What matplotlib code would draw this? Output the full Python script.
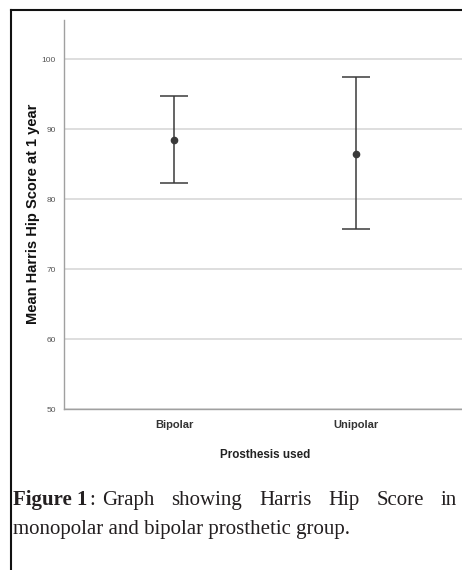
import matplotlib
matplotlib.use("Agg")
import matplotlib.pyplot as plt
from matplotlib.lines import Line2D

# data
groups = ["Bipolar", "Unipolar"]
means = [88.5, 86.5]
upper = [94.7, 97.4]
lower = [82.3, 75.7]
yticks = [50, 60, 70, 80, 90, 100]

W, H = 462, 570
fig = plt.figure(figsize=(W / 100, H / 100), dpi=100)

def px(x, y):
    return x / W, 1 - y / H

# axes box in pixels: left 64, right 466, top 20, bottom 409
ax = fig.add_axes([64 / W, (H - 409) / H, (466 - 64) / W, (409 - 20) / H])
xs = list(range(len(groups)))
err_lo = [m - l for m, l in zip(means, lower)]
err_hi = [u - m for m, u in zip(means, upper)]
ax.errorbar(xs, means, yerr=[err_lo, err_hi], fmt="o", color="#3a3a3a",
            ecolor="#3a3a3a", elinewidth=1.1, capsize=10, capthick=1.1,
            markersize=4.5, zorder=3)
ax.set_xlim(-110 / 182, 1 + 110 / 182)
ax.set_ylim(50, 50 + 389 / 7)
ax.set_yticks(yticks)
ax.set_yticklabels([str(t) for t in yticks], fontsize=6, color="#555555",
                   family="Liberation Sans")
ax.set_xticks(xs)
ax.set_xticklabels(groups, fontsize=8, color="#333333", fontweight="bold",
                   family="Liberation Sans")
ax.tick_params(axis="both", length=0)
ax.tick_params(axis="y", pad=6)
ax.tick_params(axis="x", pad=8)
ax.grid(axis="y", color="#d4d4d4", linewidth=1.1)
ax.set_axisbelow(True)
for s in ["top", "right"]:
    ax.spines[s].set_visible(False)
for s in ["left", "bottom"]:
    ax.spines[s].set_color("#a0a0a0")
    ax.spines[s].set_linewidth(1.0)
ax.set_ylabel("Mean Harris Hip Score at 1 year", fontsize=10.5, fontweight="bold",
              family="Liberation Sans", color="#111111")
ax.yaxis.set_label_coords(-24 / 402, (409 - 214) / 389)
ax.set_xlabel("Prosthesis used", fontsize=8.4, fontweight="bold",
              family="Liberation Sans", color="#222222")
ax.xaxis.set_label_coords(0.5, -(455 - 409) / 389)
ax.xaxis.label.set_va("center")

# frame around the figure
fig.add_artist(Line2D([px(11, 0)[0], px(11, 0)[0]], [px(0, 10)[1], 0],
                      color="#111111", linewidth=1.5))
fig.add_artist(Line2D([px(11, 0)[0], 1], [px(0, 10)[1], px(0, 10)[1]],
                      color="#111111", linewidth=1.5))

# caption, first line spread out towards the right edge like the source
cap_size = 15
serif = "Liberation Serif"
ink = "#231f20"
renderer = fig.canvas.get_renderer()

def width(t):
    return t.get_window_extent(renderer).width

y1 = px(0, 505)[1]
t = fig.text(px(13, 0)[0], y1, "Figure 1", fontsize=cap_size, fontweight="bold",
             family=serif, color=ink, va="baseline")
x = 13 + width(t) + 2
t = fig.text(px(x, 0)[0], y1, ":", fontsize=cap_size, family=serif, color=ink,
             va="baseline")
x = x + width(t) + 7
words = ["Graph", "showing", "Harris", "Hip", "Score", "in"]
ws = []
for w in words:
    tw = fig.text(0, y1, w, fontsize=cap_size, family=serif, color=ink,
                  va="baseline")
    ws.append((tw, width(tw)))
gap = (457 - x - sum(v for _, v in ws)) / (len(ws) - 1)
for tw, v in ws:
    tw.set_x(px(x, 0)[0])
    x += v + gap

fig.text(px(13, 0)[0], px(0, 534)[1], "monopolar and bipolar prosthetic group.",
         fontsize=cap_size, family=serif, color=ink, va="baseline")

fig.savefig("out.png", dpi=100)
